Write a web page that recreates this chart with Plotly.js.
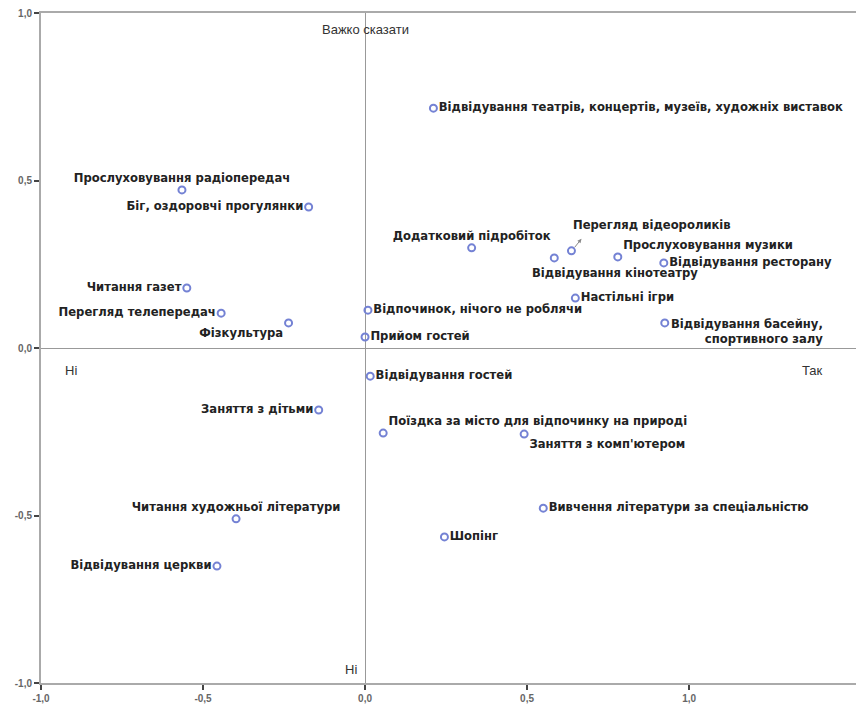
<!DOCTYPE html>
<html><head><meta charset="utf-8">
<script src="https://cdn.plot.ly/plotly-3.0.1.min.js"></script>
<style>html,body{margin:0;padding:0;background:#fff;overflow:hidden}#chart{width:866px;height:708px}</style>
</head><body><div id="chart"></div>
<script>
var labels = [
  "Відвідування театрів, концертів, музеїв, художніх виставок",
  "Прослуховування радіопередач",
  "Біг, оздоровчі прогулянки",
  "Читання газет",
  "Перегляд телепередач",
  "Фізкультура",
  "Додатковий підробіток",
  "Перегляд відеороликів",
  "Відвідування кінотеатру",
  "Прослуховування музики",
  "Відвідування ресторану",
  "Настільні ігри",
  "Відпочинок, нічого не роблячи",
  "Відвідування басейну,<br>спортивного залу",
  "Прийом гостей",
  "Відвідування гостей",
  "Заняття з дітьми",
  "Поїздка за місто для відпочинку на природі",
  "Заняття з комп'ютером",
  "Читання художньої літератури",
  "Відвідування церкви",
  "Вивчення літератури за спеціальністю",
  "Шопінг"
];
var dim1 = [0.211,-0.565,-0.174,-0.550,-0.444,-0.236,0.329,0.637,0.584,0.780,0.922,0.649,0.009,0.925,0.000,0.016,-0.143,0.056,0.491,-0.398,-0.457,0.550,0.245];
var dim2 = [0.716,0.472,0.421,0.179,0.104,0.075,0.299,0.290,0.269,0.272,0.254,0.149,0.113,0.075,0.033,-0.084,-0.185,-0.254,-0.257,-0.510,-0.651,-0.478,-0.564];
var xTicks = [-1.0,-0.5,0.0,0.5,1.0];
var xTickText = ["-1,0","-0,5","0,0","0,5","1,0"];
var yTicks = [-1.0,-0.5,0.0,0.5,1.0];
var yTickText = ["-1,0","-0,5","0,0","0,5","1,0"];

// label placement (style)
var pos = ["middle right","top center","middle left","middle left","middle left","bottom left",
  "top center","none","none","top right","middle right","middle right","middle right",
  "none","middle right","middle right","middle left","top right","bottom right","top center",
  "middle left","middle right","middle right"];

var txt = labels.map(function(l,i){ return pos[i]==="none" ? "" : l; });
var tp = pos.map(function(p){ return p==="none" ? "middle right" : p; });

var labelFont = {family:"DejaVu Sans, sans-serif", size:11.6, color:"#222", weight:"bold"};
var trace = {
  x: dim1, y: dim2, mode: "markers+text", type: "scatter",
  text: txt, textposition: tp, textfont: labelFont,
  marker: {symbol:"circle-open", size:7, color:"#7482d4", line:{width:2, color:"#7482d4"}},
  hoverinfo: "none", cliponaxis: false
};

var iVid = 7, iKino = 8, iBas = 13;
var plainFont = {family:"Liberation Sans, Arial, sans-serif", size:13, color:"#333"};
var layout = {
  width: 866, height: 708,
  margin: {l:41, r:0, t:13, b:25},
  paper_bgcolor: "#fff", plot_bgcolor: "#fff",
  showlegend: false,
  xaxis: {range:[-1, 1.546], tickvals:xTicks, ticktext:xTickText, showgrid:false,
    zeroline:true, zerolinecolor:"#999", zerolinewidth:1,
    showline:true, linecolor:"#aaa", linewidth:2, mirror:true,
    ticks:"outside", ticklen:5, tickwidth:2, tickcolor:"#444",
    tickfont:{family:"Liberation Sans, Arial, sans-serif", size:10, color:"#666", weight:"bold"}},
  yaxis: {range:[-1, 1], tickvals:yTicks, ticktext:yTickText, showgrid:false,
    zeroline:true, zerolinecolor:"#999", zerolinewidth:1,
    showline:true, linecolor:"#aaa", linewidth:2, mirror:false,
    ticks:"outside", ticklen:5, tickwidth:2, tickcolor:"#444",
    tickfont:{family:"Liberation Sans, Arial, sans-serif", size:10, color:"#666", weight:"bold"}},
  annotations: [
    {x:0, y:1, xref:"x", yref:"y", text:"Важко сказати", showarrow:false, xanchor:"center", yanchor:"top", yshift:-7, font:plainFont},
    {x:0, y:-1, xref:"x", yref:"y", text:"Ні", showarrow:false, xanchor:"right", yanchor:"bottom", xshift:-6, yshift:4, font:plainFont},
    {x:-1, y:0, xref:"x", yref:"y", text:"Ні", showarrow:false, xanchor:"left", yanchor:"top", xshift:22, yshift:-13, font:plainFont},
    {x:1.36, y:0, xref:"x", yref:"y", text:"Так", showarrow:false, xanchor:"left", yanchor:"top", xshift:-6, yshift:-13, font:plainFont},
    {x:dim1[iVid], y:dim2[iVid], xref:"x", yref:"y", text:labels[iVid], showarrow:false, xanchor:"left", yanchor:"bottom", xshift:0, yshift:17, font:labelFont},
    {x:dim1[iVid], y:dim2[iVid], xref:"x", yref:"y", text:"", showarrow:true, ax:-8, ay:10, axref:"pixel", ayref:"pixel", arrowside:"end", arrowhead:2, arrowsize:0.8, arrowwidth:1, arrowcolor:"#888", standoff:0, xshift:10, yshift:12},
    {x:dim1[iKino], y:dim2[iKino], xref:"x", yref:"y", text:labels[iKino], showarrow:false, xanchor:"left", yanchor:"top", xshift:-24, yshift:-6, font:labelFont},
    {x:dim1[iBas], y:dim2[iBas], xref:"x", yref:"y", text:labels[iBas], showarrow:false, xanchor:"left", yanchor:"top", align:"right", xshift:4, yshift:8, font:labelFont}
  ]
};
Plotly.newPlot("chart", [trace], layout, {displayModeBar:false, staticPlot:true});
</script></body></html>
